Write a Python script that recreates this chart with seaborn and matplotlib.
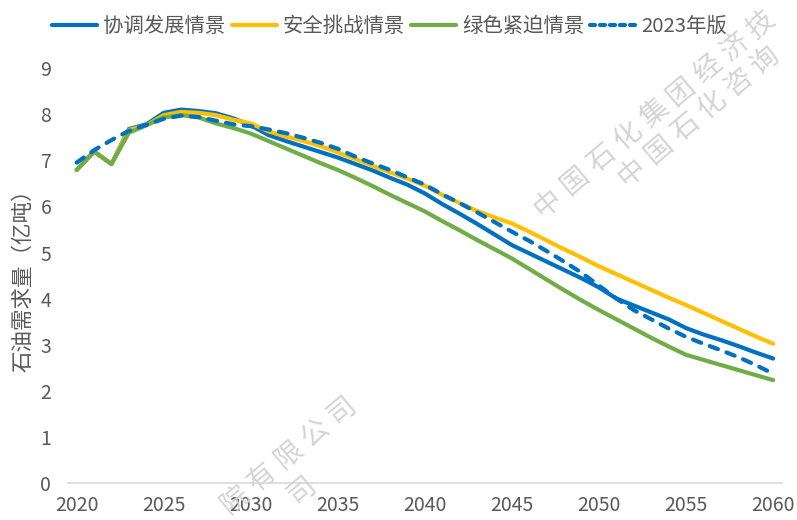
import math

import matplotlib
matplotlib.use("Agg")
import matplotlib.pyplot as plt
import pandas as pd
import seaborn as sns
from matplotlib.lines import Line2D

years = list(range(2020, 2061))

coordinated = [6.79, 7.19, 6.92, 7.68, 7.78, 8.03, 8.10, 8.07, 8.02, 7.91,
               7.76, 7.55, 7.42, 7.30, 7.18, 7.06, 6.92, 6.78, 6.62, 6.47,
               6.28, 6.05, 5.84, 5.62, 5.39, 5.16, 4.98, 4.80, 4.62, 4.44,
               4.24, 4.00, 3.85, 3.70, 3.55, 3.36, 3.22, 3.10, 2.97, 2.83,
               2.70]
security = [6.79, 7.19, 6.92, 7.66, 7.76, 7.98, 8.05, 8.03, 7.98, 7.88,
            7.80, 7.63, 7.52, 7.42, 7.31, 7.17, 7.03, 6.88, 6.74, 6.60,
            6.45, 6.25, 6.07, 5.90, 5.76, 5.63, 5.45, 5.26, 5.07, 4.89,
            4.70, 4.53, 4.36, 4.19, 4.02, 3.86, 3.69, 3.52, 3.35, 3.18,
            3.02]
green = [6.79, 7.19, 6.92, 7.60, 7.76, 7.93, 7.98, 7.93, 7.80, 7.70,
         7.58, 7.42, 7.26, 7.10, 6.94, 6.79, 6.62, 6.44, 6.25, 6.07,
         5.89, 5.68, 5.48, 5.27, 5.07, 4.87, 4.64, 4.41, 4.18, 3.96,
         3.75, 3.55, 3.35, 3.15, 2.96, 2.78, 2.67, 2.56, 2.45, 2.34,
         2.23]
v2023 = [6.95, 7.22, 7.44, 7.64, 7.77, 7.90, 7.97, 7.94, 7.86, 7.78,
         7.74, 7.67, 7.59, 7.49, 7.38, 7.25, 7.08, 6.93, 6.79, 6.63,
         6.47, 6.26, 6.07, 5.87, 5.66, 5.45, 5.25, 5.03, 4.80, 4.56,
         4.28, 4.00, 3.75, 3.55, 3.35, 3.17, 3.02, 2.88, 2.73, 2.56,
         2.37]

names = ["协调发展情景", "安全挑战情景", "绿色紧迫情景", "2023年版"]
colors = ["#0070C0", "#FFC000", "#70AD47", "#0070C0"]
x_ticks = [2020, 2025, 2030, 2035, 2040, 2045, 2050, 2055, 2060]

wm_line1 = "中国石化集团经济技术研究院有限公司"
wm_line2 = "中国石化咨询有限公司"

df = pd.concat([
    pd.DataFrame({"年份": years, "需求": vals, "情景": nm})
    for nm, vals in zip(names, [coordinated, security, green, v2023])
])

sns.set_style("white")
plt.rcParams["font.family"] = ["Noto Sans CJK SC", "DejaVu Sans"]

W, H = 797, 520
fig = plt.figure(figsize=(W / 100, H / 100), dpi=100)
ax = fig.add_axes([0.0853, 0.0712, 0.8957, 0.7978])
ax.patch.set_alpha(0)


def watermark(text, px, py, first=True, step=34.8, angle=40):
    # spaced-out rotated characters; (px, py) is the first (or last) char centre
    dx = step * math.cos(math.radians(angle))
    dy = -step * math.sin(math.radians(angle))
    chars = text if first else text[::-1]
    sign = 1 if first else -1
    for i, ch in enumerate(chars):
        cx, cy = px + sign * i * dx, py + sign * i * dy
        if 15 < cx < W - 15 and 15 < cy < H - 15:
            fig.text(cx / W, 1 - cy / H, ch, color="#D4D4D4", fontsize=20,
                     rotation=angle, ha="center", va="center", zorder=0)


watermark(wm_line1, 548, 203)
watermark(wm_line2, 632, 172)
watermark(wm_line1, 342, 410, first=False)
watermark(wm_line2, 302, 490, first=False)

palette = dict(zip(names, colors))
dashes = {nm: "" for nm in names[:3]}
dashes[names[3]] = (2.1, 2.2)
sns.lineplot(data=df, x="年份", y="需求", hue="情景", style="情景",
             palette=palette, dashes=dashes, linewidth=3, ax=ax,
             legend=False)
for ln in ax.get_lines():
    ln.set_dash_capstyle("round")
    ln.set_solid_capstyle("round")

ax.set_xlim(2019.5, 2060.5)
ax.set_ylim(0, 9)
ax.set_xticks(x_ticks)
ax.set_yticks(range(0, 10))
ax.tick_params(axis="both", length=0, labelsize=14, colors="#595959")
ax.tick_params(axis="x", pad=9)
ax.tick_params(axis="y", pad=12)
ax.set_xlabel("")
ax.set_ylabel("石油需求量（亿吨）", fontsize=15.5, color="#595959", labelpad=4)
for s in ["top", "right", "left"]:
    ax.spines[s].set_visible(False)
ax.spines["bottom"].set_color("#D9D9D9")
ax.spines["bottom"].set_linewidth(1.2)

handles = []
for nm, c in zip(names, colors):
    ls = (0, (1.2, 1.2)) if nm == "2023年版" else "-"
    handles.append(Line2D([0], [0], color=c, lw=3, linestyle=ls,
                          dash_capstyle="round", solid_capstyle="round"))
fig.legend(handles, names, loc="upper center", bbox_to_anchor=(0.489, 1.005),
           ncol=4, frameon=False, fontsize=14.7, handlelength=2.2,
           handletextpad=0.3, columnspacing=0.3, labelcolor="#595959")

fig.savefig("out.png", dpi=100)
